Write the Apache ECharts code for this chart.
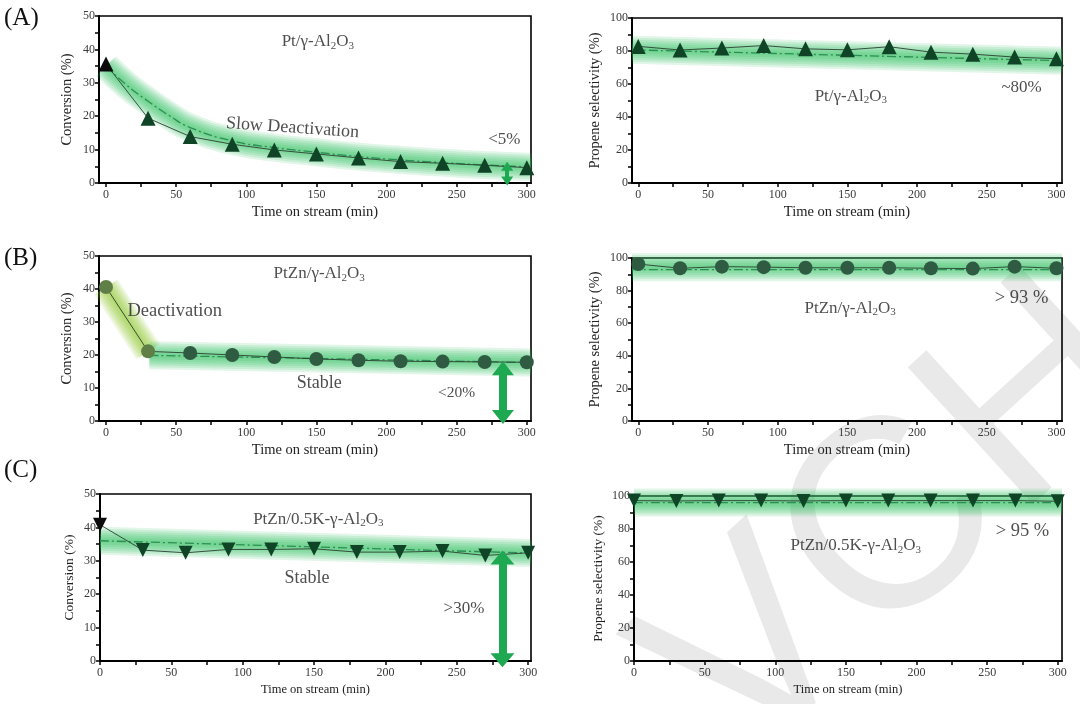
<!DOCTYPE html>
<html>
<head>
<meta charset="utf-8">
<script src="https://cdn.jsdelivr.net/npm/echarts@6/dist/echarts.min.js"></script>
<style>
html,body{margin:0;padding:0;background:#fff;}
#c{width:1080px;height:704px;}
</style>
</head>
<body>
<div id="c"></div>
<script>
// ---------- DATA ----------
const time = [0, 30, 60, 90, 120, 150, 180, 210, 240, 270, 300];
const xTickLabels = [0, 50, 100, 150, 200, 250, 300];
const xMinorTicks = [0, 25, 50, 75, 100, 125, 150, 175, 200, 225, 250, 275, 300];

// (A) Pt/γ-Al2O3
const convA = [35.6, 19.4, 13.9, 11.6, 9.9, 8.7, 7.5, 6.4, 5.9, 5.3, 4.6];
const selA  = [82.8, 80.6, 81.8, 83.3, 81.3, 80.7, 82.6, 79.3, 78.1, 76.3, 75.3];
const fitConvA = [[0, 35], [15, 29.2], [30, 24.5], [45, 20.2], [60, 16.6], [90, 12.6], [120, 10.6], [150, 9.2], [180, 7.9], [210, 6.9], [240, 6.1], [270, 5.4], [303, 4.8]];
const fitSelA  = [[-4.5, 80.7], [304, 74.1]];

// (B) PtZn/γ-Al2O3
const convB = [40.6, 21.1, 20.6, 20.0, 19.4, 18.8, 18.4, 18.1, 18.0, 17.9, 17.8];
const selB  = [96.3, 93.7, 94.7, 94.4, 94.0, 94.0, 94.0, 93.7, 93.5, 94.7, 93.7];
const fitConvB = [[31, 19.9], [303, 17.7]];
const deactGlowB = [[0, 40.6], [30, 21.0]];
const glowSelB = [[-4.5, 94.3], [304, 94.3]];
const fitSelB  = [[-4.5, 92.9], [304, 92.9]];

// (C) PtZn/0.5K-γ-Al2O3
const convC = [40.8, 33.2, 32.4, 33.4, 33.4, 33.6, 32.6, 32.6, 32.9, 31.6, 32.4];
const selC  = [97.2, 97.0, 97.2, 97.2, 97.0, 97.2, 97.2, 97.2, 97.2, 97.2, 96.8];
const fitConvC = [[0, 36.0], [302, 32.3]];
const fitSelC  = [[0, 96.0], [303, 96.0]];

// green double arrows [x, yFrom, yTo]
const arrowA = [286, 0.6, 5.0];
const arrowB = [283, 1.2, 16.0];
const arrowC = [282, 0.2, 31.0];

// ---------- LAYOUT / STYLE ----------
const SERIF = '"Liberation Serif", "Times New Roman", serif';
const panels = [
  {grid:{left:99, top:16, width:432, height:167}, xmin:-5, xmax:303, ymax:50, yStep:10, yMinor:5, yName:'Conversion (%)', nameSize:14.5, ygap:24, xNameSize:14.5},
  {grid:{left:632, top:18, width:430, height:165}, xmin:-4.5, xmax:304, ymax:100, yStep:20, yMinor:10, yName:'Propene selectivity (%)', nameSize:14.5, ygap:29, xNameSize:14.5},
  {grid:{left:99, top:256, width:432, height:165}, xmin:-5, xmax:303, ymax:50, yStep:10, yMinor:5, yName:'Conversion (%)', nameSize:14.5, ygap:24, xNameSize:14.5},
  {grid:{left:632, top:258, width:430, height:163}, xmin:-4.5, xmax:304, ymax:100, yStep:20, yMinor:10, yName:'Propene selectivity (%)', nameSize:14.5, ygap:29, xNameSize:14.5},
  {grid:{left:100, top:494, width:431, height:167}, xmin:0, xmax:302, ymax:50, yStep:10, yMinor:5, yName:'Conversion (%)', nameSize:13.5, ygap:24, xNameSize:12.5},
  {grid:{left:634, top:496, width:428, height:165}, xmin:0, xmax:303, ymax:100, yStep:20, yMinor:10, yName:'Propene selectivity (%)', nameSize:13.5, ygap:29, xNameSize:12.5}
];

function range(a, b, s){ const r=[]; for(let v=a; v<=b+1e-9; v+=s) r.push(v); return r; }

const grids = panels.map(p => Object.assign({show:true, borderColor:'#000', borderWidth:1.6, backgroundColor:'transparent', containLabel:false}, p.grid));
const xAxes = panels.map((p, i) => ({
  type:'value', gridIndex:i, min:p.xmin, max:p.xmax,
  axisLine:{show:true, onZero:false, lineStyle:{color:'#000', width:2}},
  axisTick:{show:true, customValues:xMinorTicks, length:4, lineStyle:{color:'#000', width:1.5}},
  axisLabel:{customValues:xTickLabels, fontFamily:SERIF, fontSize:12, color:'#3a3a3a', margin:6},
  splitLine:{show:false},
  name:'Time on stream (min)', nameLocation:'middle', nameGap:22,
  nameTextStyle:{fontFamily:SERIF, fontSize:p.xNameSize, color:'#222'}
}));
const yAxes = panels.map((p, i) => ({
  type:'value', gridIndex:i, min:0, max:p.ymax,
  axisLine:{show:true, onZero:false, lineStyle:{color:'#000', width:2}},
  axisTick:{show:true, customValues:range(0, p.ymax, p.yMinor), length:4, lineStyle:{color:'#000', width:1.5}},
  axisLabel:{customValues:range(0, p.ymax, p.yStep), fontFamily:SERIF, fontSize:12, color:'#3a3a3a', margin:4},
  splitLine:{show:false},
  name:p.yName, nameLocation:'middle', nameGap:p.ygap, nameRotate:90,
  nameTextStyle:{fontFamily:SERIF, fontSize:p.nameSize, color:'#222'}
}));

const pair = (xs, ys) => xs.map((x, k) => [x, ys[k]]);

// soft glow band: many stacked translucent strokes of decreasing width
function glow(i, data, rgb){
  rgb = rgb || '50,195,100';
  const widths = [28, 24, 20, 16, 12, 8, 4];
  return widths.map(w => ({type:'line', xAxisIndex:i, yAxisIndex:i, data:data, smooth:true, showSymbol:false, silent:true, z:1,
    lineStyle:{width:w, color:'rgba(' + rgb + ',0.135)', shadowBlur:6, shadowColor:'rgba(' + rgb + ',0.12)', cap:'butt', join:'round'}}));
}
function fit(i, data){
  return {type:'line', xAxisIndex:i, yAxisIndex:i, data:data, smooth:true, showSymbol:false, silent:true, z:3,
    lineStyle:{width:1.3, color:'#2b8f54', type:[9, 3, 2, 3]}};
}
function points(i, ys, symbol, size, colors, rotate){
  return {type:'line', xAxisIndex:i, yAxisIndex:i, symbol:symbol, symbolSize:size, symbolRotate:rotate || 0, clip:false, z:4,
    data: pair(time, ys).map((d, k) => ({value:d, itemStyle:{color:colors(k), borderWidth:0}})),
    lineStyle:{width:0.9, color:'#2c3d32'}};
}
function arrow(i, a, size, w){
  return {type:'line', xAxisIndex:i, yAxisIndex:i, data:[], z:5,
    markLine:{silent:true, symbol:['triangle', 'triangle'], symbolSize:size, symbolOffset:0, label:{show:false},
      lineStyle:{color:'#1ea851', width:w, type:'solid'},
      data:[[{coord:[a[0], a[1]]}, {coord:[a[0], a[2]]}]]}};
}
function rich(fs){
  return {s:{fontFamily:SERIF, fontSize:Math.round(fs * 0.62), color:'#222', padding:[Math.round(fs * 0.5), 0, 0, 0]}};
}
function notes(i, list){
  return {type:'scatter', xAxisIndex:i, yAxisIndex:i, symbolSize:0, silent:true, z:6,
    data:list.map(n => ({name:n[2], value:[n[0], n[1]], label:{rotate:n[3] || 0, fontSize:n[4], rich:rich(n[4])}})),
    label:{show:true, position:'inside', formatter:'{b}', fontFamily:SERIF, color:'#222'}};
}
const blackFirst = k => k === 0 ? '#0b0b0b' : '#0f4526';
const oliveFirst = k => k < 2 ? '#5f7f47' : '#2f5b42';

const series = [].concat(
  // A left
  glow(0, fitConvA), fit(0, fitConvA), points(0, convA, 'triangle', 15, blackFirst), arrow(0, arrowA, [12, 9], 4),
  notes(0, [[151, 42.4, 'Pt/γ-Al{s|2}O{s|3}', 0, 17], [133, 16.5, 'Slow Deactivation', -4, 18], [284, 13.0, '<5%', 0, 17]]),
  // A right
  glow(1, fitSelA), fit(1, fitSelA), points(1, selA, 'triangle', 15, k => '#0f4526'),
  notes(1, [[152.5, 52.7, 'Pt/γ-Al{s|2}O{s|3}', 0, 17], [275, 57.6, '~80%', 0, 17]]),
  // B left
  glow(2, deactGlowB, '150,200,50'), glow(2, fitConvB), fit(2, fitConvB),
  points(2, convB, 'circle', 14, oliveFirst), arrow(2, arrowB, [22, 14], 8),
  notes(2, [[152, 44.8, 'PtZn/γ-Al{s|2}O{s|3}', 0, 17], [49, 33.3, 'Deactivation', 0, 18.5], [152, 11.5, 'Stable', 0, 18], [250, 8.5, '<20%', 0, 15.5]]),
  // B right
  glow(3, glowSelB), fit(3, fitSelB), points(3, selB, 'circle', 14, k => '#2f5b42'),
  notes(3, [[152, 69.3, 'PtZn/γ-Al{s|2}O{s|3}', 0, 17], [275, 75.5, '> 93 %', 0, 18.5]]),
  // C left
  glow(4, fitConvC), fit(4, fitConvC), points(4, convC, 'triangle', 14, blackFirst, 180), arrow(4, arrowC, [24, 14], 8),
  notes(4, [[153, 42.5, 'PtZn/0.5K-γ-Al{s|2}O{s|3}', 0, 17], [145, 24.9, 'Stable', 0, 18], [255, 15.6, '>30%', 0, 17]]),
  // C right
  glow(5, fitSelC), fit(5, fitSelC), points(5, selC, 'triangle', 14, k => '#0f4526', 180),
  notes(5, [[157, 69.7, 'PtZn/0.5K-γ-Al{s|2}O{s|3}', 0, 17], [275, 78.8, '> 95 %', 0, 18.5]])
);

const chart = echarts.init(document.getElementById('c'), null, {renderer:'canvas'});
chart.setOption({
  backgroundColor:'#fff',
  animation:false,
  grid:grids, xAxis:xAxes, yAxis:yAxes, series:series,
  graphic:[
    {type:'text', x:900, y:525, rotation:0.74, z:-10, silent:true,
      style:{text:'VCH', font:'270px "Liberation Sans", sans-serif', fill:'#e9e9e9', align:'center', verticalAlign:'middle'}},
    {type:'text', left:4, top:6, style:{text:'(A)', font:'25px ' + SERIF, fill:'#111'}},
    {type:'text', left:4, top:246, style:{text:'(B)', font:'25px ' + SERIF, fill:'#111'}},
    {type:'text', left:4, top:458, style:{text:'(C)', font:'25px ' + SERIF, fill:'#111'}}
  ]
});
</script>
</body>
</html>
